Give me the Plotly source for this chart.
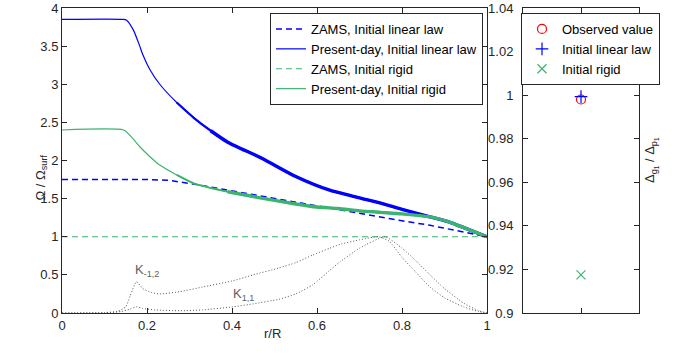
import plotly.graph_objects as go

# ---------------- data ----------------
r_zams_lin = [0.0, 0.20, 0.25, 0.30, 0.35, 0.40, 0.50, 0.60, 0.65, 0.70, 0.75, 0.80, 0.866, 0.945, 1.0]
om_zams_lin = [1.75, 1.75, 1.74, 1.70, 1.65, 1.60, 1.50, 1.41, 1.36, 1.31, 1.26, 1.21, 1.15, 1.06, 1.0]

r_pres_lin = [0.0, 0.144, 0.152, 0.168, 0.183, 0.19, 0.207, 0.23, 0.27, 0.31, 0.35, 0.39,
              0.47, 0.55, 0.63, 0.70, 0.75, 0.80, 0.866, 0.913, 0.95, 1.0]
om_pres_lin = [3.85, 3.85, 3.84, 3.71, 3.50, 3.39, 3.19, 3.00, 2.76, 2.56, 2.39, 2.24,
               2.03, 1.79, 1.61, 1.51, 1.44, 1.36, 1.26, 1.19, 1.11, 1.0]

r_zams_rig = [0.0, 1.0]
om_zams_rig = [1.0, 1.0]

r_pres_rig = [0.0, 0.145, 0.16, 0.183, 0.207, 0.23, 0.27, 0.31, 0.39, 0.466, 0.55, 0.60,
              0.65, 0.70, 0.75, 0.80, 0.866, 0.913, 0.95, 1.0]
om_pres_rig = [2.40, 2.40, 2.33, 2.18, 2.05, 1.94, 1.81, 1.70, 1.59, 1.51, 1.43, 1.39,
               1.37, 1.34, 1.32, 1.30, 1.26, 1.19, 1.11, 1.0]

r_k12 = [0.0, 0.10, 0.13, 0.15, 0.16, 0.175, 0.19, 0.21, 0.23, 0.278, 0.33, 0.40, 0.45,
         0.51, 0.55, 0.59, 0.63, 0.654, 0.70, 0.745, 0.77, 0.80, 0.83, 0.866, 0.90, 0.945, 0.98, 1.0]
k12 = [0.0, 0.005, 0.02, 0.08, 0.22, 0.41, 0.32, 0.27, 0.25, 0.28, 0.34, 0.42, 0.50,
       0.59, 0.66, 0.76, 0.85, 0.90, 0.96, 1.0, 0.94, 0.73, 0.55, 0.34, 0.20, 0.08, 0.02, 0.0]

r_k11 = [0.0, 0.10, 0.14, 0.16, 0.175, 0.19, 0.22, 0.278, 0.33, 0.40, 0.45, 0.51, 0.55,
         0.59, 0.63, 0.654, 0.70, 0.76, 0.80, 0.83, 0.866, 0.90, 0.945, 0.98, 1.0]
k11 = [0.0, 0.003, 0.02, 0.05, 0.08, 0.06, 0.04, 0.03, 0.04, 0.08, 0.12, 0.18, 0.25,
       0.37, 0.56, 0.67, 0.85, 1.0, 0.85, 0.70, 0.50, 0.32, 0.13, 0.03, 0.0]

ratio_labels = ["Observed value", "Initial linear law", "Initial rigid"]
ratio_values = [0.998, 0.9993, 0.9175]

legend_main = ["ZAMS, Initial linear law", "Present-day, Initial linear law",
               "ZAMS, Initial rigid", "Present-day, Initial rigid"]

x_ticks = [0, 0.2, 0.4, 0.6, 0.8, 1.0]
y_ticks = [0, 0.5, 1, 1.5, 2, 2.5, 3, 3.5, 4]
y2_ticks = [0.9, 0.92, 0.94, 0.96, 0.98, 1.0, 1.02, 1.04]

# ---------------- styles ----------------
W, H = 691, 356
FONT = "Liberation Sans, Arial, sans-serif"
FS = 13
AX = "#262626"
BLUE = "#0000FF"
GREEN = "#3CB371"
GRAY = "#555555"

fig = go.Figure()

fig.add_trace(go.Scatter(x=r_zams_lin, y=om_zams_lin, mode="lines", name=legend_main[0],
                         line=dict(color=BLUE, width=1.5, dash="6px,4px")))
fig.add_trace(go.Scatter(x=r_pres_lin, y=om_pres_lin, mode="lines", name=legend_main[1],
                         line=dict(color=BLUE, width=1.2, shape="spline", smoothing=0.6)))
fig.add_trace(go.Scatter(x=r_zams_rig, y=om_zams_rig, mode="lines", name=legend_main[2],
                         line=dict(color=GREEN, width=1.2, dash="6px,4px")))
fig.add_trace(go.Scatter(x=r_pres_rig, y=om_pres_rig, mode="lines", name=legend_main[3],
                         line=dict(color=GREEN, width=1.2, shape="spline", smoothing=0.6)))

# thicker overlay where the present-day model spread widens
def tail(xs, ys, x0):
    px = [x for x in xs if x >= x0]
    py = [y for x, y in zip(xs, ys) if x >= x0]
    return px, py

for xs, ys, col, x0, w in [(r_pres_lin, om_pres_lin, BLUE, 0.27, 2.2),
                           (r_pres_lin, om_pres_lin, BLUE, 0.35, 3.4),
                           (r_pres_rig, om_pres_rig, GREEN, 0.27, 2.0),
                           (r_pres_rig, om_pres_rig, GREEN, 0.39, 3.4)]:
    px, py = tail(xs, ys, x0)
    fig.add_trace(go.Scatter(x=px, y=py, mode="lines", showlegend=False,
                             line=dict(color=col, width=w, shape="spline", smoothing=0.6)))

for xs, ys in [(r_k12, k12), (r_k11, k11)]:
    fig.add_trace(go.Scatter(x=xs, y=ys, mode="lines", showlegend=False,
                             line=dict(color=GRAY, width=1, dash="1px,2px", shape="spline",
                                       smoothing=0.5)))

# right panel markers
sym = ["circle-open", "cross-thin-open", "x-thin-open"]
cols = ["#FF0000", BLUE, GREEN]
for lab, val, s, c in zip(ratio_labels, ratio_values, sym, cols):
    fig.add_trace(go.Scatter(x=[1], y=[val], mode="markers", name=lab, xaxis="x2", yaxis="y2",
                             legend="legend2",
                             marker=dict(symbol=s, size=9, color=c, line=dict(color=c, width=1.2))))

x0p, x1p = 62 / W, 487 / W
x0q, x1q = 523 / W, 639 / W
y0p, y1p = 1 - 313 / H, 1 - 8 / H

axis_common = dict(showline=True, linecolor=AX, linewidth=1, mirror="ticks", ticks="inside",
                   ticklen=5, tickcolor=AX, showgrid=False, zeroline=False, automargin=False,
                   tickfont=dict(family=FONT, size=FS, color=AX))

fig.update_layout(
    template="none",
    width=W, height=H, margin=dict(l=0, r=0, t=0, b=0, pad=0, autoexpand=False),
    paper_bgcolor="white", plot_bgcolor="white",
    font=dict(family=FONT, size=FS, color=AX),
    xaxis=dict(domain=[x0p, x1p], range=[0, 1], tickvals=x_ticks,
               ticktext=[f"{v:g}" for v in x_ticks], anchor="y", **axis_common),
    yaxis=dict(domain=[y0p, y1p], range=[0, 4], tickvals=y_ticks,
               ticktext=[f"{v:g}" for v in y_ticks], anchor="x", **axis_common),
    xaxis2=dict(domain=[x0q, x1q], range=[0, 2], tickvals=[1], ticktext=[""], anchor="y2",
                **axis_common),
    yaxis2=dict(domain=[y0p, y1p], range=[0.9, 1.04], tickvals=y2_ticks,
                ticktext=[f"{v:g}" for v in y2_ticks], anchor="x2", side="left",
                ticklabelstandoff=6, **axis_common),
    legend=dict(x=483 / W, y=1 - 13 / H, xanchor="right", yanchor="top",
                bgcolor="white", bordercolor=AX, borderwidth=1, itemwidth=30,
                font=dict(family=FONT, size=FS, color="#000000"), tracegroupgap=0),
    legend2=dict(x=660 / W, y=1 - 13 / H, xanchor="right", yanchor="top",
                 bgcolor="white", bordercolor=AX, borderwidth=1, itemwidth=30,
                 font=dict(family=FONT, size=FS, color="#000000")),
    showlegend=True,
)

fig.add_annotation(text="r/R", xref="paper", yref="paper", x=272 / W, y=1 - 343 / H,
                   showarrow=False, font=dict(family=FONT, size=FS, color=AX))
fig.add_annotation(text="Ω / Ω<sub>surf</sub>", xref="paper", yref="paper", x=30 / W, y=1 - 178 / H,
                   textangle=-90, showarrow=False, font=dict(family=FONT, size=FS, color=AX))
fig.add_annotation(text="Δ<sub>g<sub>1</sub></sub> / Δ<sub>p<sub>1</sub></sub>", xref="paper",
                   yref="paper", x=662 / W, y=1 - 160 / H, textangle=-90, showarrow=False,
                   font=dict(family=FONT, size=FS, color=AX))
fig.add_annotation(text="K<sub>-1,2</sub>", x=0.168, y=0.56, xref="x", yref="y", xanchor="left",
                   showarrow=False, font=dict(family=FONT, size=FS, color="#606060"))
fig.add_annotation(text="K<sub>1,1</sub>", x=0.397, y=0.24, xref="x", yref="y", xanchor="left",
                   showarrow=False, font=dict(family=FONT, size=FS, color="#606060"))

fig.write_html("out.html", config={"displayModeBar": False},
               post_script="document.body.style.margin='0';document.body.style.padding='0';")
